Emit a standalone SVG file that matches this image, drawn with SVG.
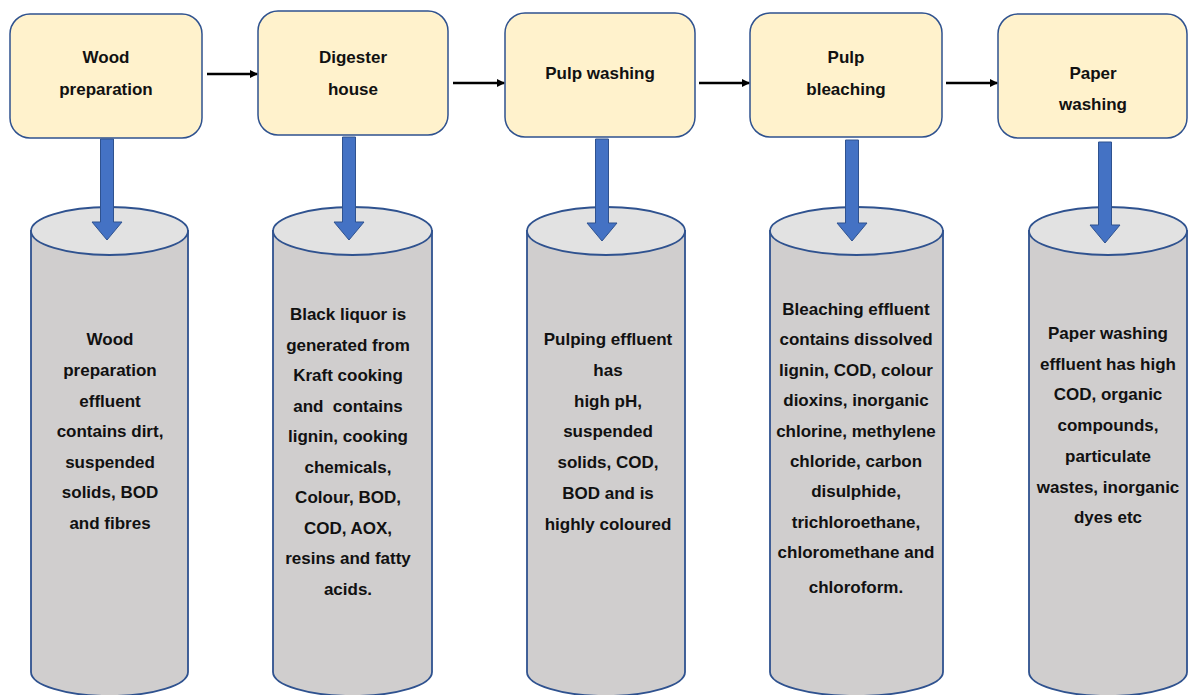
<svg xmlns="http://www.w3.org/2000/svg" width="1188" height="695" viewBox="0 0 1188 695">
<style>
.box{fill:#FFF2CC;stroke:#2F528F;stroke-width:1.5}
.cyl{fill:#D0CECE;stroke:#2F528F;stroke-width:1.8}
.cyltop{fill:#E2E2E2;stroke:#2F528F;stroke-width:1.8}
.down{fill:#4472C4;stroke:#2F528F;stroke-width:1}
.flow{stroke:#000;stroke-width:2.5;fill:none;marker-end:url(#ah)}
text{font-family:"Liberation Sans",Arial,sans-serif;font-weight:bold;font-size:17px;fill:#111;text-anchor:middle}
</style>
<defs>
<marker id="ah" markerWidth="8" markerHeight="8" refX="7" refY="4" orient="auto" markerUnits="userSpaceOnUse">
<path d="M0,0 L8,4 L0,8 Z" fill="#000"/>
</marker>
</defs>
<rect width="1188" height="695" fill="#fff"/>

<g id="stage1">
<rect class="box" x="10" y="14" width="192" height="124" rx="20"/>
<text x="106" y="63">Wood</text>
<text x="106" y="95">preparation</text>
</g>
<g id="stage2">
<rect class="box" x="258" y="11" width="190" height="124" rx="20"/>
<text x="353" y="63">Digester</text>
<text x="353" y="95">house</text>
</g>
<g id="stage3">
<rect class="box" x="505" y="13" width="190" height="124" rx="20"/>
<text x="600" y="79">Pulp washing</text>
</g>
<g id="stage4">
<rect class="box" x="750" y="13" width="192" height="124" rx="20"/>
<text x="846" y="63">Pulp</text>
<text x="846" y="95">bleaching</text>
</g>
<g id="stage5">
<rect class="box" x="998" y="14" width="189" height="124" rx="20"/>
<text x="1093" y="79">Paper</text>
<text x="1093" y="110">washing</text>
</g>

<g id="effluent1">
<path class="cyl" d="M31,231 L31,672 A78.5,24 0 0 0 188,672 L188,231 Z"/>
<ellipse class="cyltop" cx="109.5" cy="231" rx="78.5" ry="24"/>
<text x="110" y="345">Wood</text>
<text x="110" y="376">preparation</text>
<text x="110" y="407">effluent</text>
<text x="110" y="437">contains dirt,</text>
<text x="110" y="468">suspended</text>
<text x="110" y="498">solids, BOD</text>
<text x="110" y="529">and fibres</text>
</g>
<g id="effluent2">
<path class="cyl" d="M273,231 L273,672 A79.5,24 0 0 0 432,672 L432,231 Z"/>
<ellipse class="cyltop" cx="352.5" cy="231" rx="79.5" ry="24"/>
<text x="348" y="320">Black liquor is</text>
<text x="348" y="350.5">generated from</text>
<text x="348" y="381">Kraft cooking</text>
<text x="348" y="411.5" xml:space="preserve">and  contains</text>
<text x="348" y="442">lignin, cooking</text>
<text x="348" y="472.5">chemicals,</text>
<text x="348" y="503">Colour, BOD,</text>
<text x="348" y="533.5">COD, AOX,</text>
<text x="348" y="564">resins and fatty</text>
<text x="348" y="594.5">acids.</text>
</g>
<g id="effluent3">
<path class="cyl" d="M527,231 L527,672 A79,24 0 0 0 685,672 L685,231 Z"/>
<ellipse class="cyltop" cx="606" cy="231" rx="79" ry="24"/>
<text x="608" y="345">Pulping effluent</text>
<text x="608" y="376">has</text>
<text x="608" y="406.5">high pH,</text>
<text x="608" y="437">suspended</text>
<text x="608" y="468">solids, COD,</text>
<text x="608" y="499">BOD and is</text>
<text x="608" y="530">highly coloured</text>
</g>
<g id="effluent4">
<path class="cyl" d="M770,231 L770,672 A86.5,24 0 0 0 943,672 L943,231 Z"/>
<ellipse class="cyltop" cx="856.5" cy="231" rx="86.5" ry="24"/>
<text x="856" y="315">Bleaching effluent</text>
<text x="856" y="345.4">contains dissolved</text>
<text x="856" y="375.8">lignin, COD, colour</text>
<text x="856" y="406.2">dioxins, inorganic</text>
<text x="856" y="436.6">chlorine, methylene</text>
<text x="856" y="467">chloride, carbon</text>
<text x="856" y="497.4">disulphide,</text>
<text x="856" y="527.8">trichloroethane,</text>
<text x="856" y="558.2">chloromethane and</text>
<text x="856" y="593">chloroform.</text>
</g>
<g id="effluent5">
<path class="cyl" d="M1029,231 L1029,672 A79,24 0 0 0 1187,672 L1187,231 Z"/>
<ellipse class="cyltop" cx="1108" cy="231" rx="79" ry="24"/>
<text x="1108" y="339">Paper washing</text>
<text x="1108" y="369.7">effluent has high</text>
<text x="1108" y="400.4">COD, organic</text>
<text x="1108" y="431.1">compounds,</text>
<text x="1108" y="461.8">particulate</text>
<text x="1108" y="492.5">wastes, inorganic</text>
<text x="1108" y="523.2">dyes etc</text>
</g>

<g id="connectors">
<line class="flow" x1="207" y1="74" x2="257" y2="74"/>
<line class="flow" x1="453" y1="83" x2="504" y2="83"/>
<line class="flow" x1="699" y1="83" x2="749" y2="83"/>
<line class="flow" x1="946" y1="83" x2="997" y2="83"/>
<path class="down" d="M100.5,139 L113.5,139 L113.5,222 L122,222 L107,240 L92,222 L100.5,222 Z"/>
<path class="down" d="M342.5,137 L355.5,137 L355.5,222 L364,222 L349,240 L334,222 L342.5,222 Z"/>
<path class="down" d="M595.5,139 L608.5,139 L608.5,223 L617,223 L602,241 L587,223 L595.5,223 Z"/>
<path class="down" d="M845.5,140 L858.5,140 L858.5,223 L867,223 L852,241 L837,223 L845.5,223 Z"/>
<path class="down" d="M1098.5,142 L1111.5,142 L1111.5,225 L1120,225 L1105,243 L1090,225 L1098.5,225 Z"/>
</g>
</svg>
